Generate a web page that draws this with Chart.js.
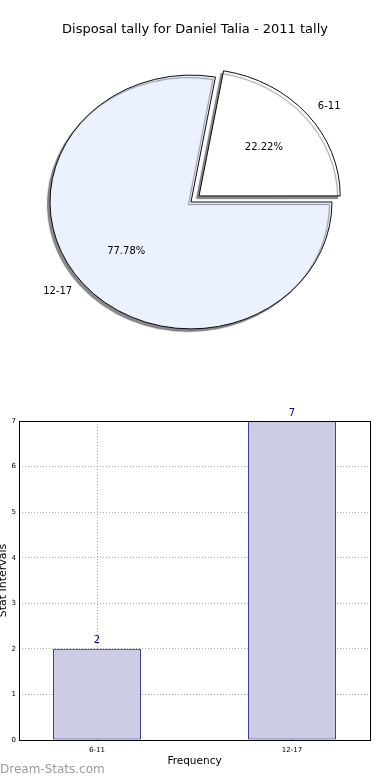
<!DOCTYPE html>
<html>
<head>
<meta charset="utf-8">
<script src="https://cdn.jsdelivr.net/npm/chart.js@4.4.1/dist/chart.umd.min.js"></script>
<style>
  html, body { margin:0; padding:0; background:#fff; }
  body { width:390px; height:780px; position:relative; overflow:hidden; font-family:"DejaVu Sans", sans-serif; }
  #pieWrap { position:absolute; left:0; top:0; width:390px; height:390px; }
  #barWrap { position:absolute; left:0; top:390px; width:390px; height:390px; }
</style>
</head>
<body>
<div id="pieWrap"><canvas id="chartPie" width="390" height="390"></canvas></div>
<div id="barWrap"><canvas id="chartBar" width="390" height="390"></canvas></div>
<script>
// ── data ──
const titleText = 'Disposal tally for Daniel Talia - 2011 tally';
const categories = ['6-11', '12-17'];
const tally = [2, 7];
const yTicks = [0, 1, 2, 3, 4, 5, 6, 7];

const FONT = "'DejaVu Sans', sans-serif";
const squash = 0.9;   // pie is drawn slightly elliptical, like the original

// ══════════════════════════════════════════════════
//  PIE
// ══════════════════════════════════════════════════
const pieStyle = {
  id: 'pieStyle',
  beforeDatasetsDraw(chart) {
    const arc = chart.getDatasetMeta(0).data[0];
    const ctx = chart.ctx;
    ctx.save();
    ctx.translate(arc.x, arc.y);
    ctx.scale(1, squash);
    ctx.translate(-arc.x, -arc.y);
    ctx.shadowColor = 'rgba(60,60,60,0.6)';
    ctx.shadowOffsetX = -2.5;
    ctx.shadowOffsetY = 2.5;
    ctx.shadowBlur = 1;
  },
  afterDatasetsDraw(chart) {
    const ctx = chart.ctx;
    ctx.restore();
    const meta = chart.getDatasetMeta(0);
    const total = tally.reduce((a, b) => a + b, 0);
    ctx.save();
    ctx.fillStyle = '#000';
    // title, centred on the page
    ctx.font = '13px ' + FONT;
    ctx.textAlign = 'center';
    ctx.textBaseline = 'middle';
    ctx.fillText(titleText, 195, 30);
    ctx.font = '10px ' + FONT;
    meta.data.forEach((arc, i) => {
      const mid = (arc.startAngle + arc.endAngle) / 2;
      const off = (arc.options.offset || 0) / 4;   // chart.js draws offset/4
      const cx = arc.x + off * Math.cos(mid);
      const cy = arc.y + off * Math.sin(mid) * squash;
      const r = arc.outerRadius;
      const pct = (tally[i] / total * 100).toFixed(2) + '%';
      ctx.textAlign = 'center';
      ctx.fillText(pct, cx + r * 0.6 * Math.cos(mid), cy + r * 0.6 * Math.sin(mid) * squash);
      const lx = cx + r * 1.1 * Math.cos(mid);
      ctx.textAlign = Math.cos(mid) >= 0 ? 'left' : 'right';
      ctx.fillText(categories[i], lx, cy + r * 1.1 * Math.sin(mid) * squash);
    });
    ctx.restore();
  }
};

new Chart(document.getElementById('chartPie'), {
  type: 'pie',
  data: {
    labels: categories,
    datasets: [{
      data: tally,
      backgroundColor: ['#ffffff', '#ebf1ff'],
      borderColor: '#000',
      borderWidth: 1,
      offset: [42, 0],
      clip: false,
    }]
  },
  options: {
    responsive: false, animation: false,
    rotation: 10,
    radius: 141,
    layout: { padding: { left: 0, right: 8, top: 49, bottom: 35 } },
    plugins: {
      legend: { display: false },
      tooltip: { enabled: false }
    }
  },
  plugins: [pieStyle]
});

// ══════════════════════════════════════════════════
//  BAR
// ══════════════════════════════════════════════════
const barExtras = {
  id: 'barExtras',
  afterDraw(chart) {
    const { ctx, chartArea: a } = chart;
    ctx.save();
    // frame
    ctx.strokeStyle = '#000';
    ctx.lineWidth = 1;
    ctx.strokeRect(Math.round(a.left) + 0.5, Math.round(a.top) + 0.5,
                   Math.round(a.right - a.left), Math.round(a.bottom - a.top));
    // value labels
    ctx.fillStyle = '#000080';
    ctx.font = '10px ' + FONT;
    ctx.textAlign = 'center';
    ctx.textBaseline = 'bottom';
    chart.getDatasetMeta(0).data.forEach((bar, i) => {
      ctx.fillText(String(tally[i]), bar.x, bar.y - 3);
    });
    // y title, partly off the left edge as in the original
    ctx.fillStyle = '#000';
    ctx.font = '11px ' + FONT;
    ctx.translate(3, (a.top + a.bottom) / 2);
    ctx.rotate(-Math.PI / 2);
    ctx.textBaseline = 'middle';
    ctx.fillText('Stat Intervals', 0, 0);
    ctx.restore();
    // watermark
    ctx.save();
    ctx.fillStyle = '#9a9a9a';
    ctx.font = '12px ' + FONT;
    ctx.textAlign = 'left';
    ctx.textBaseline = 'middle';
    ctx.fillText('Dream-Stats.com', 0, chart.height - 10);
    ctx.restore();
  }
};

const gridStyle = { color: 'rgba(0,0,0,0.35)', lineWidth: 1, drawTicks: false, offset: false };
const gridBorder = { display: false, dash: [1, 2] };

new Chart(document.getElementById('chartBar'), {
  type: 'bar',
  data: {
    datasets: [{
      data: tally.map((v, i) => ({ x: i, y: v })),
      backgroundColor: '#ccccE5',
      borderColor: '#000080',
      borderWidth: 1,
      borderSkipped: false,
      barPercentage: 0.45,
      categoryPercentage: 1,
    }]
  },
  options: {
    responsive: false, animation: false,
    layout: { padding: { left: 0, right: 20, top: 31, bottom: 12 } },
    plugins: { legend: { display: false }, tooltip: { enabled: false } },
    scales: {
      x: {
        type: 'linear', min: -0.4, max: 1.4, z: 1, offset: false,
        afterBuildTicks: s => { s.ticks = categories.map((c, i) => ({ value: i })); },
        afterFit: s => { s.height = 28; },
        grid: { ...gridStyle },
        border: gridBorder,
        ticks: { color: '#000', font: { family: FONT, size: 7 }, padding: 6,
                 callback: v => categories[v] },
        title: { display: true, text: 'Frequency', color: '#000',
                 font: { family: FONT, size: 10.5 }, padding: { top: 2, bottom: 0 } }
      },
      y: {
        min: 0, max: 7, z: 1,
        afterBuildTicks: s => { s.ticks = yTicks.map(v => ({ value: v })); },
        afterFit: s => { s.width = 19; },
        grid: { ...gridStyle },
        border: gridBorder,
        ticks: { color: '#000', font: { family: FONT, size: 7 }, padding: 3 }
      }
    }
  },
  plugins: [barExtras]
});
</script>
</body>
</html>
